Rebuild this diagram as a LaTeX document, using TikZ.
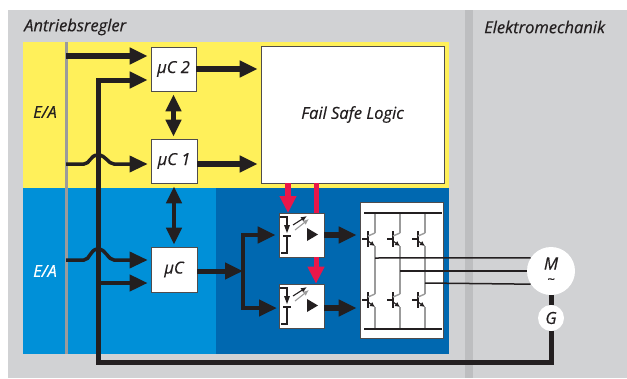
\documentclass[tikz,border=0pt]{standalone}
\usepackage{fontspec}
\setmainfont{Open Sans}
\usetikzlibrary{arrows.meta}
\definecolor{panelgray}{HTML}{D1D2D4}
\definecolor{dividergray}{HTML}{BDBEC0}
\definecolor{linegray}{HTML}{9B9B9B}
\definecolor{safeyellow}{HTML}{FFF05A}
\definecolor{ctrlblue}{HTML}{0090D8}
\definecolor{powerblue}{HTML}{0068B0}
\definecolor{ink}{HTML}{231F20}
\definecolor{signalred}{HTML}{E8174A}
\newcommand{\lblfont}[1]{\fontsize{#1}{#1}\selectfont\itshape\addfontfeature{FakeBold=0.35}}
\tikzset{
  lbl/.style={font=\lblfont{#1},text=ink,inner sep=0pt},
  ctrlbox/.style={draw=ink!80,line width=0.7pt,fill=white,inner sep=0pt,minimum width=45pt,minimum height=44pt,font=\lblfont{16.5},text=ink},
  fatarrow/.style={draw=ink,line width=5.5pt,-{Triangle[length=18pt,width=16pt]},shorten >=3pt},
  thinarrow/.style={draw=ink,line width=3.5pt,-{Triangle[length=18pt,width=16pt]},shorten >=3pt},
  botharrow/.style={draw=ink,line width=4.5pt,{Triangle[length=17pt,width=15pt]}-{Triangle[length=17pt,width=15pt]},shorten >=2pt,shorten <=3pt},
  redline/.style={draw=signalred,line width=5pt},
  redarrow/.style={redline,-{Triangle[length=17pt,width=16pt]}},
  wire/.style={draw=ink,line width=1.5pt},
  leg/.style={draw=linegray,line width=1.4pt},
  round/.style={circle,fill=white,inner sep=0pt,font=\lblfont{16.5},text=ink}
}
\begin{document}
\begin{tikzpicture}[x=1pt,y=-1pt]
  \useasboundingbox (0,0) rectangle (627,378);

  % Panels
  \fill[panelgray] (8,10) rectangle (627,378);
  \fill[dividergray] (465,10) rectangle (473,378);
  \fill[safeyellow] (23,42) rectangle (449,188);
  \fill[ctrlblue] (23,188) rectangle (449,354);
  \fill[powerblue] (216,188) rectangle (449,354);
  \fill[linegray] (64.5,42) rectangle (67.5,354);

  \node[lbl=16.5,anchor=west] (regler) at (24,27) {Antriebsregler};
  \node[lbl=16.5,anchor=west] (mechanik) at (484,27) {Elektromechanik};
  \node[lbl=16.5] (eaone) at (45,112) {E/A};
  \node[lbl=16.5,text=white] (eatwo) at (45,271) {E/A};

  % Blocks
  \node[ctrlbox] (mctwo) at (173.5,69) {µC 2};
  \node[ctrlbox,minimum width=46pt] (mcone) at (174,161) {µC 1};
  \node[ctrlbox,minimum width=46pt,minimum height=45pt] (mc) at (174,269.5) {µC};
  \node[ctrlbox,minimum width=183pt,minimum height=137pt] (logic) at (352.5,114.5) {Fail Safe Logic};
  \node[ctrlbox] (optoone) at (301.5,235) {};
  \node[ctrlbox] (optotwo) at (301.5,306) {};
  \node[ctrlbox,fill=white,minimum width=83pt,minimum height=136pt] (bridge) at (401.5,270) {};

  % Inputs
  \coordinate (inone) at (66,56);
  \coordinate (intwo) at (66,164);
  \coordinate (inthree) at (66,260);
  \coordinate (fbcorner) at (98,362.5);
  \coordinate (fbtop) at (98,80);
  \coordinate (fbbranch) at (98,283);

  \node[round,minimum size=48pt] (motor) at (551,271) {};
  \node[lbl=17] (motorm) at (551,263.5) {M};
  \node[lbl=13] (motort) at (551,281) {\textasciitilde};
  \node[round,minimum size=26pt] (gen) at (551,318) {G};

  \draw[fatarrow] (inone) -- (inone -| mctwo.west);
  \draw[draw=ink,line width=5pt,line join=miter,-{Triangle[length=18pt,width=16pt]},shorten >=3pt]
    (gen.south) |- (fbcorner) -- (fbtop) -- (fbtop -| mctwo.west);
  \draw[thinarrow,line width=4pt] (fbbranch) -- (fbbranch -| mc.west);
  \draw[thinarrow] (intwo) -- (84,164) .. controls (90,164) and (90,155) .. (98,155)
    .. controls (106,155) and (108,164) .. (114,164) -- (mcone.west |- intwo);
  \draw[thinarrow] (inthree) -- (84,260) .. controls (90,260) and (90,249) .. (98,249)
    .. controls (106,249) and (108,260) .. (114,260) -- (mc.west |- inthree);

  % Between the controllers
  \draw[botharrow] (mctwo.south) -- (mctwo.south |- mcone.north);
  \draw[botharrow] (mcone.south) -- (mcone.south |- mc.north);
  \draw[fatarrow] (mctwo.east) -- (mctwo.east -| logic.west);
  \draw[fatarrow] (mcone.east |- intwo) -- (intwo -| logic.west);

  % Driver stage
  \coordinate (split) at (243,271);
  \coordinate (optoin) at (280,308);
  \coordinate (optoout) at (324,308);
  \draw[draw=ink,line width=5pt,-{Triangle[length=18pt,width=16pt]}] (mc.east |- split) -- (split);
  \draw[draw=ink,line width=4.5pt,{Triangle[length=18pt,width=16pt]}-{Triangle[length=18pt,width=16pt]},shorten >=3pt,shorten <=3pt,line join=miter]
    (optoone.west) -| (split) |- (optoin);
  \draw[fatarrow] (optoone.east) -- (optoone.east -| bridge.west);
  \draw[fatarrow] (optoout) -- (optoout -| bridge.west);

  % Safety signals
  \coordinate (redone) at (288,213);
  \coordinate (redtwo) at (316,213);
  \draw[redarrow,line width=6pt] (redone |- logic.south) -- (redone);
  \draw[redline] (redtwo |- logic.south) -- (redtwo |- optoone.north);
  \draw[redarrow] (redtwo |- optoone.south) -- (redtwo |- optotwo.north);

  % Optocoupler symbols
  \foreach \ya in {0,71} {
    \begin{scope}[yshift=-\ya pt]
      \draw[draw=ink,line width=1.2pt] (280,217) -- (287,217) -- (287,226);
      \fill[ink] (284,225) -- (290,225) -- (287,233) -- cycle;
      \draw[draw=ink,line width=1.2pt] (283,236) -- (291,236);
      \draw[draw=ink,line width=1.2pt] (287,236) -- (287,253) -- (281,253);
      \fill[ink] (307,228) -- (318,234.5) -- (307,241) -- cycle;
      \draw[draw=ink,line width=1.1pt,-{Latex[length=6pt,width=5pt]}] (293,225) -- (307,216);
      \draw[leg,line width=1.1pt,-{Latex[length=6pt,width=5pt]}] (295,230) -- (309,219);
    \end{scope}
  }

  % Inverter bridge
  \foreach \xa in {375,400,425} {
    \draw[leg] (\xa,213) -- (\xa,233);
    \draw[leg] (\xa,246) -- (\xa,294);
    \draw[leg] (\xa,307) -- (\xa,329);
    \foreach \yb in {239,300} {
      \draw[draw=ink,line width=1.8pt] (\xa-13,\yb) -- (\xa-7,\yb);
      \draw[draw=ink,line width=1.8pt] (\xa-7,\yb-8) -- (\xa-7,\yb+8);
      \draw[leg] (\xa-7,\yb-3) -- (\xa,\yb-6);
      \draw[draw=ink,line width=1.1pt,-{Latex[length=5pt,width=5pt]}] (\xa-7,\yb+2) -- (\xa,\yb+7);
    }
  }
  \coordinate (railtop) at (364,213);
  \coordinate (railbot) at (364,329);
  \draw[wire] (railtop) -- (442,213);
  \draw[wire] (railbot) -- (442,329);

  % Motor leads
  \coordinate (leadone) at (375,258);
  \coordinate (leadtwo) at (400,271);
  \coordinate (leadthree) at (425,283);
  \draw[wire] (leadone) -- (motor.147);
  \draw[wire] (leadtwo) -- (motor.west);
  \draw[wire] (leadthree) -- (motor.213);
  \draw[draw=ink,line width=5pt] (motor.south -| gen.north) -- (gen.north);
\end{tikzpicture}
\end{document}
